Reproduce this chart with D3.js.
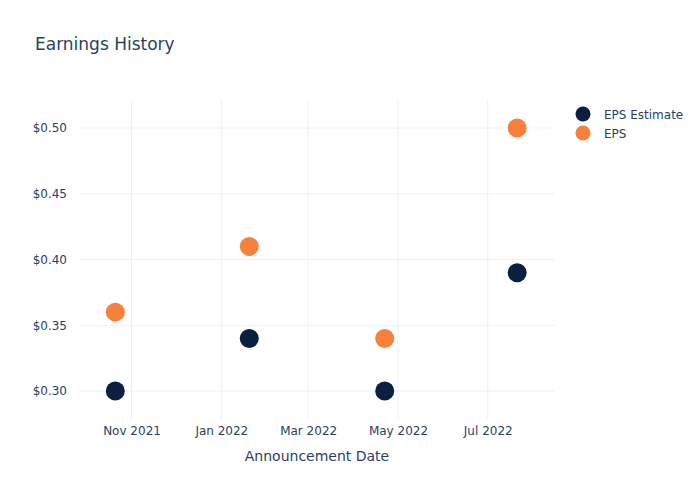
<!DOCTYPE html>
<html>
<head>
<meta charset="utf-8">
<script src="https://cdn.jsdelivr.net/npm/d3@7"></script>
<style>
  body { margin: 0; background: #fff; }
  svg, svg text { font-family: "DejaVu Sans", sans-serif; }
</style>
</head>
<body>
<div id="chart"></div>
<script>
// --- data ---------------------------------------------------------------
const dates      = ['2021-10-21', '2022-01-20', '2022-04-22', '2022-07-21'];
const epsEstimate = [0.30, 0.34, 0.30, 0.39];
const epsActual   = [0.36, 0.41, 0.34, 0.50];
const yTicks      = [0.30, 0.35, 0.40, 0.45, 0.50];
const xTicks      = ['2021-11-01', '2022-01-01', '2022-03-01', '2022-05-01', '2022-07-01'];
const seriesNames = ['EPS Estimate', 'EPS'];

// --- layout -------------------------------------------------------------
const W = 700, H = 500;
const M = { l: 80, r: 146, t: 100, b: 80 };
const TEXT = '#2a3f5f', GRID = '#ebf0f8';
const COLORS = ['#0b1f41', '#f7813a'];
const R = 9.5;

const parse = d3.utcParse('%Y-%m-%d');
const svg = d3.select('#chart').append('svg').attr('width', W).attr('height', H);

const x = d3.scaleUtc()
  .domain([parse('2021-09-27'), parse('2022-08-15')])
  .range([M.l, W - M.r]);
const y = d3.scaleLinear()
  .domain([0.278, 0.5213])
  .range([H - M.b, M.t]);

// grid
svg.append('g').selectAll('line').data(xTicks).join('line')
  .attr('x1', d => x(parse(d))).attr('x2', d => x(parse(d)))
  .attr('y1', M.t).attr('y2', H - M.b)
  .attr('stroke', GRID).attr('stroke-width', 1);
svg.append('g').selectAll('line').data(yTicks).join('line')
  .attr('x1', M.l).attr('x2', W - M.r)
  .attr('y1', d => y(d)).attr('y2', d => y(d))
  .attr('stroke', GRID).attr('stroke-width', 1);

// axes
const xAxis = svg.append('g')
  .attr('transform', `translate(0,${H - M.b})`)
  .call(d3.axisBottom(x).tickValues(xTicks.map(parse)).tickFormat(d3.utcFormat('%b %Y')).tickSize(0).tickPadding(6));
const yAxis = svg.append('g')
  .attr('transform', `translate(${M.l},0)`)
  .call(d3.axisLeft(y).tickValues(yTicks).tickFormat(d => '$' + d.toFixed(2)).tickSize(0).tickPadding(13));
[xAxis, yAxis].forEach(a => {
  a.attr('font-family', null);
  a.select('.domain').remove();
  a.selectAll('text').attr('fill', TEXT).attr('font-size', 12);
});

// points
[epsEstimate, epsActual].forEach((vals, i) => {
  svg.append('g').selectAll('circle').data(vals).join('circle')
    .attr('cx', (d, j) => x(parse(dates[j])))
    .attr('cy', d => y(d))
    .attr('r', R)
    .attr('fill', COLORS[i]);
});

// title & axis title
svg.append('text').attr('x', 35).attr('y', 50)
  .attr('fill', TEXT).attr('font-size', 17).text('Earnings History');
svg.append('text').attr('x', (M.l + W - M.r) / 2).attr('y', 461)
  .attr('text-anchor', 'middle').attr('fill', TEXT).attr('font-size', 14)
  .text('Announcement Date');

// legend
const leg = svg.append('g').attr('transform', 'translate(583,114)');
seriesNames.forEach((n, i) => {
  const g = leg.append('g').attr('transform', `translate(0,${i * 19})`);
  g.append('circle').attr('r', 7.5).attr('fill', COLORS[i]);
  g.append('text').attr('x', 21).attr('y', 4.5)
    .attr('fill', TEXT).attr('font-size', 12).text(n);
});
</script>
</body>
</html>
